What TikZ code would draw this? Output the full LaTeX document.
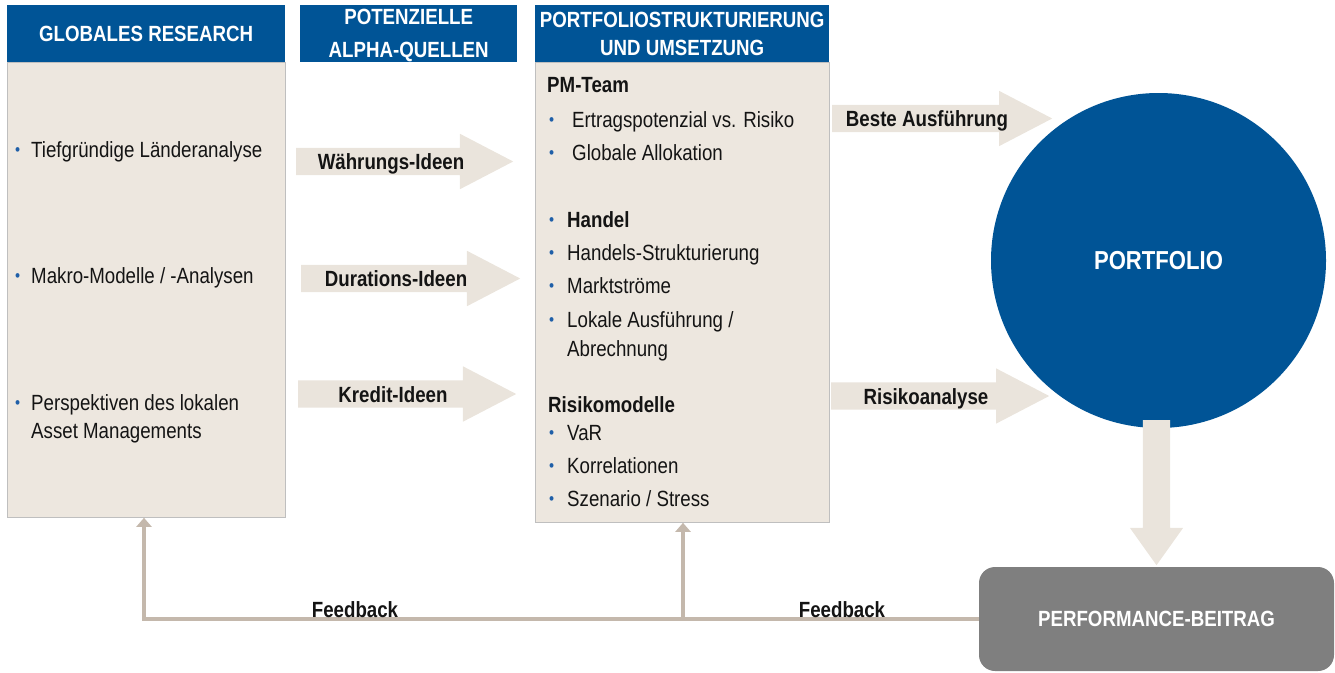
\documentclass[tikz,border=0pt]{standalone}
\usepackage{fontspec}
\setmainfont{Liberation Sans}[FakeStretch=0.85]
\usetikzlibrary{shapes.arrows,arrows.meta}
\definecolor{HeadClr}{RGB}{0,84,150}
\definecolor{BoxClr}{RGB}{237,231,223}
\definecolor{LineClr}{RGB}{191,191,191}
\definecolor{ArrowClr}{RGB}{234,228,220}
\definecolor{FeedClr}{RGB}{196,184,172}
\definecolor{PerfClr}{RGB}{127,127,127}
\definecolor{BulletClr}{RGB}{31,95,168}
\definecolor{TextClr}{RGB}{20,20,20}
\newcommand{\bul}[1][16pt]{\makebox[#1][l]{\raisebox{2pt}{\color{BulletClr}\fontsize{17}{17}\selectfont\textbullet}}}

\begin{document}
\begin{tikzpicture}[x=1pt,y=-1pt,
  head/.style={fill=HeadClr,text=white,font=\fontsize{22}{28}\selectfont\bfseries,align=center,anchor=north west,inner sep=0pt},
  body/.style={fill=BoxClr,draw=LineClr,line width=0.8pt,anchor=north west,inner sep=0pt},
  txt/.style={anchor=base west,inner sep=0pt,text=TextClr,font=\fontsize{22}{22}\selectfont},
  bold/.style={txt,font=\fontsize{22}{22}\selectfont\bfseries},
  bigarrow/.style={single arrow,fill=ArrowClr,inner xsep=0pt,inner ysep=13.5pt,single arrow head extend=14pt,single arrow tip angle=55,single arrow head indent=0pt,anchor=tail},
  arrtxt/.style={anchor=base,inner sep=0pt,text=TextClr,font=\fontsize{22}{22}\selectfont\bfseries},
  feed/.style={draw=FeedClr,line width=4pt,-{Triangle[width=15pt,length=9pt]}}]
\useasboundingbox (0,0) rectangle (1335,672);

% columns
\node[head,minimum width=278pt,minimum height=57pt] (researchHead) at (7,5) {GLOBALES RESEARCH};
\node[body,minimum width=278pt,minimum height=455pt] (research) at (7,62) {};
\node[head,minimum width=217pt,minimum height=57pt] (alphaHead) at (300,5) {};
\node[head,anchor=center] (alphaText) at ([yshift=-2pt]alphaHead.center) {POTENZIELLE\\[5pt]ALPHA-QUELLEN};
\node[head,minimum width=294pt,minimum height=57pt] (structHead) at (535,5) {PORTFOLIOSTRUKTURIERUNG\\UND UMSETZUNG};
\node[body,minimum width=294pt,minimum height=460pt] (struct) at (535,62) {};

% research items
\node[txt] (land) at (15,157) {\bul Tiefgründige Länderanalyse};
\node[txt] (makro) at (15,283) {\bul Makro-Modelle / -Analysen};
\node[txt] (persp) at (15,410) {\bul Perspektiven des lokalen};
\node[txt] (asset) at (31,438) {Asset Managements};

% structuring items
\node[bold] (pmteam) at (547,92) {PM-Team};
\node[txt] (ertrag) at (549,127) {\bul[23pt]Ertragspotenzial vs. Risiko};
\node[txt] (alloc) at (549,160) {\bul[23pt]Globale Allokation};
\node[txt] (handel) at (549,227) {\bul[18pt]\bfseries Handel};
\node[txt] (hstruct) at (549,260) {\bul[18pt]Handels-Strukturierung};
\node[txt] (markt) at (549,293) {\bul[18pt]Marktströme};
\node[txt] (lokal) at (549,327) {\bul[18pt]Lokale Ausführung /};
\node[txt] (abrech) at (567,356) {Abrechnung};
\node[bold] (risiko) at (548,412) {Risikomodelle};
\node[txt] (var) at (549,440) {\bul[18pt]VaR};
\node[txt] (korr) at (549,473) {\bul[18pt]Korrelationen};
\node[txt] (szen) at (549,506) {\bul[18pt]Szenario / Stress};

% block arrows
\node[bigarrow,minimum height=217pt] (waehrung) at (296,161.5) {};
\node[arrtxt] at ([xshift=95pt,yshift=-8pt]waehrung.tail) {Währungs-Ideen};
\node[bigarrow,minimum height=219pt] (duration) at (301,278.5) {};
\node[arrtxt] at ([xshift=95pt,yshift=-8pt]duration.tail) {Durations-Ideen};
\node[bigarrow,minimum height=218pt] (kredit) at (298,394) {};
\node[arrtxt] at ([xshift=95pt,yshift=-8pt]kredit.tail) {Kredit-Ideen};
\node[bigarrow,minimum height=220pt] (beste) at (832,118.5) {};
\node[arrtxt] at ([xshift=95pt,yshift=-8pt]beste.tail) {Beste Ausführung};
\node[bigarrow,minimum height=218pt] (risk) at (831,396) {};
\node[arrtxt] at ([xshift=95pt,yshift=-8pt]risk.tail) {Risikoanalyse};

% portfolio and result
\node[circle,fill=HeadClr,minimum size=335pt,inner sep=0pt,text=white,font=\fontsize{26}{26}\selectfont\bfseries] (portfolio) at (1158.5,260.5) {PORTFOLIO};
\node[bigarrow,minimum height=145pt,single arrow head extend=13pt,single arrow tip angle=71,rotate=-90] (down) at (1156.5,420) {};
\node[rectangle,rounded corners=16pt,fill=PerfClr,minimum width=355pt,minimum height=104pt,text=white,font=\fontsize{22}{22}\selectfont\bfseries] (perf) at (1156.5,619) {PERFORMANCE-BEITRAG};

% feedback
\coordinate (fbL) at (144,619);
\coordinate (fbM) at (683,619);
\draw[feed] (perf.west) -- (fbL) -- (fbL |- research.south);
\draw[feed] (fbM) -- (fbM |- struct.south);
\node[arrtxt] (fbLeft) at (355,617) {Feedback};
\node[arrtxt] (fbRight) at (842,617) {Feedback};

\end{tikzpicture}
\end{document}
